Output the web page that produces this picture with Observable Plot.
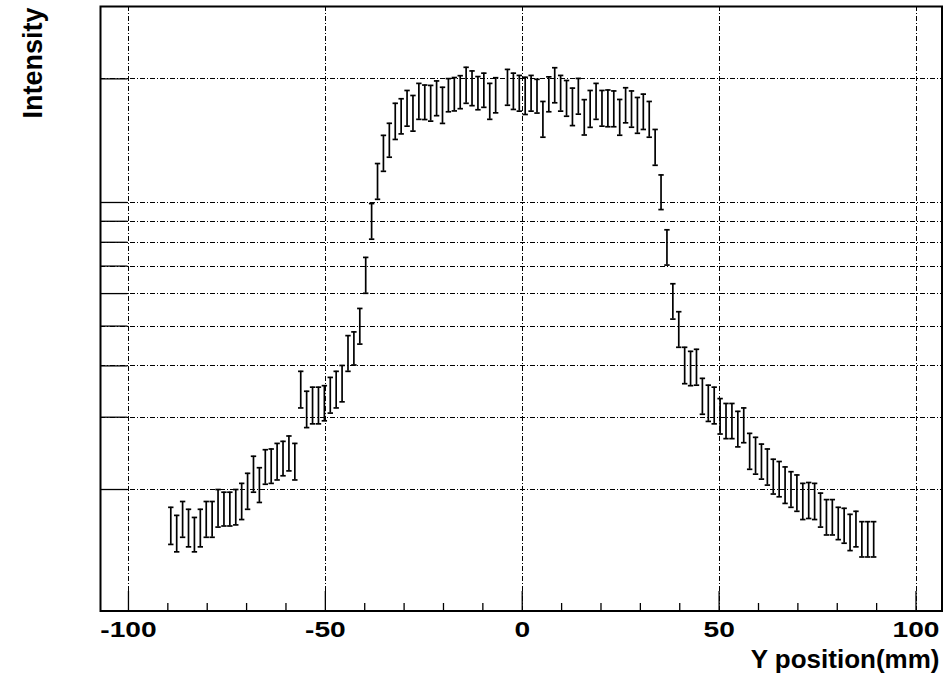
<!DOCTYPE html>
<html><head><meta charset="utf-8">
<script src="https://cdn.jsdelivr.net/npm/d3@7"></script>
<script src="https://cdn.jsdelivr.net/npm/@observablehq/plot@0.6"></script>
<style>body{margin:0;background:#fff}</style>
</head><body>
<div id="chart"></div>
<script>
// Bin centres (mm), 1.5 mm bins
const binCenters = [
  -89.25,-87.75,-86.25,-84.75,-83.25,-81.75,-80.25,-78.75,-77.25,-75.75,
  -74.25,-72.75,-71.25,-69.75,-68.25,-66.75,-65.25,-63.75,-62.25,-60.75,
  -59.25,-57.75,-56.25,-54.75,-53.25,-51.75,-50.25,-48.75,-47.25,-45.75,
  -44.25,-42.75,-41.25,-39.75,-38.25,-36.75,-35.25,-33.75,-32.25,-30.75,
  -29.25,-27.75,-26.25,-24.75,-23.25,-21.75,-20.25,-18.75,-17.25,-15.75,
  -14.25,-12.75,-11.25,-9.75,-8.25,-6.75,-5.25,-3.75,-2.25,-0.75,
  0.75,2.25,3.75,5.25,6.75,8.25,9.75,11.25,12.75,14.25,
  15.75,17.25,18.75,20.25,21.75,23.25,24.75,26.25,27.75,29.25,
  30.75,32.25,33.75,35.25,36.75,38.25,39.75,41.25,42.75,44.25,
  45.75,47.25,48.75,50.25,51.75,53.25,54.75,56.25,57.75,59.25,
  60.75,62.25,63.75,65.25,66.75,68.25,69.75,71.25,72.75,74.25,
  75.75,77.25,78.75,80.25,81.75,83.25,84.75,86.25,87.75,89.25
];
// Intensity (arbitrary units), null = empty bin
const intensity = [
  164,157,170,162,156,162,170,170,181,180,
  180,182,188,199,219,206,228,229,235,239,
  246,235,352,315,322,322,326,341,352,364,
  431,443,502,668,904,1131,1324,1424,1584,1629,
  1704,1657,1772,1762,1753,1802,1733,1833,1843,1864,
  1939,1906,1854,1885,1772,1833,null,1917,1875,1854,
  1828,1854,1823,1602,1843,1939,1854,1802,1719,1823,
  1620,1699,1772,1704,1704,1699,1620,1733,1697,1638,
  1671,1602,1369,1064,781,577,493,403,396,399,
  339,326,322,303,295,295,282,288,249,243,
  235,228,216,213,206,201,197,188,189,188,
  179,172,172,166,164,158,161,152,152,152
];
const intensityErr = [
  17,16,17,17,15,17,17,17,19,17,
  17,18,19,20,22,20,22,22,24,23,
  24,24,36,32,33,33,32,34,36,37,
  43,41,50,67,90,113,133,135,160,160,
  170,165,178,170,175,175,175,170,172,172,
  195,185,172,180,178,180,null,192,190,185,
  190,185,172,160,180,190,185,180,180,182,
  160,175,178,170,175,170,162,170,172,164,
  165,160,137,103,77,57,49,41,38,40,
  34,33,33,30,29,29,28,28,25,25,
  23,23,21,21,21,20,20,19,19,19,
  17,17,17,15,16,16,16,15,15,15
];
const xMajorTicks = [-100, -50, 0, 50, 100];
const xMinorTicks = [-90,-80,-70,-60,-40,-30,-20,-10,10,20,30,40,60,70,80,90];
const yTicks = [200, 300, 400, 500, 600, 700, 800, 900, 1000, 2000];
const xTitle = "Y position(mm)";
const yTitle = "Intensity";

const rows = binCenters
  .map((x, i) => ({x, v: intensity[i], e: intensityErr[i]}))
  .filter(d => d.v != null);

// line-segment symbols; length taken from r
function segSymbol(dx, dy) {
  return {draw(ctx, size) { const l = Math.sqrt(size / Math.PI); ctx.moveTo(0, 0); ctx.lineTo(dx * l, dy * l); }};
}
const capSymbol = {draw(ctx, size) { const h = Math.sqrt(size / Math.PI); ctx.moveTo(-h, 0); ctx.lineTo(h, 0); }};

const font = "'Liberation Sans', Arial, Helvetica, sans-serif";
const dash = "5,2,1,2";

const chart = Plot.plot({
  width: 952, height: 674,
  marginLeft: 100, marginRight: 10.5, marginTop: 6, marginBottom: 63.5,
  style: {background: "white", fontFamily: font, color: "black"},
  x: {domain: [-107.1, 106.6], axis: null},
  y: {type: "log", domain: [101.2, 3001], axis: null},
  marks: [
    Plot.ruleX(xMajorTicks, {x: d => d, stroke: "black", strokeWidth: 1, strokeDasharray: dash, shapeRendering: "crispEdges"}),
    Plot.ruleY(yTicks, {y: d => d, stroke: "black", strokeWidth: 1, strokeDasharray: dash, shapeRendering: "crispEdges"}),
    // inner tick marks
    Plot.dot(yTicks, {y: d => d, frameAnchor: "left", symbol: segSymbol(1, 0), r: 27, stroke: "black", fill: "none", strokeWidth: 1.3}),
    Plot.dot(xMinorTicks, {x: d => d, frameAnchor: "bottom", symbol: segSymbol(0, -1), r: 8, stroke: "black", fill: "none", strokeWidth: 1.3}),
    Plot.dot(xMajorTicks, {x: d => d, frameAnchor: "bottom", symbol: segSymbol(0, -1), r: 20, stroke: "black", fill: "none", strokeWidth: 1.3}),
    // error bars
    Plot.ruleX(rows, {x: "x", y1: d => d.v - d.e, y2: d => d.v + d.e, stroke: "black", strokeWidth: 1.7}),
    Plot.dot(rows, {x: "x", y: d => d.v + d.e, symbol: capSymbol, r: 2.7, stroke: "black", fill: "none", strokeWidth: 1.7}),
    Plot.dot(rows, {x: "x", y: d => d.v - d.e, symbol: capSymbol, r: 2.7, stroke: "black", fill: "none", strokeWidth: 1.7}),
    Plot.frame({stroke: "black", strokeWidth: 2}),
    Plot.axisX(xMajorTicks, {tickSize: 0, tickPadding: 10, tickFormat: d => String(d), fontSize: 22, fontWeight: "bold", fill: "black", label: null}),
    Plot.text([xTitle], {text: d => d, frameAnchor: "bottom-right", textAnchor: "end", lineAnchor: "bottom", dx: -2.5, dy: 56.5, fontSize: 26, fontWeight: "bold", fill: "black", ariaLabel: "x-title"}),
    Plot.text([yTitle], {text: d => d, frameAnchor: "top-left", rotate: -90, textAnchor: "end", lineAnchor: "bottom", dx: -58.3, dy: 1, fontSize: 27, fontWeight: "bold", fill: "black", ariaLabel: "y-title"})
  ]
});
document.getElementById("chart").append(chart);

// widen horizontal labels to match the reference's letter widths
chart.querySelectorAll('g[aria-label="x-axis tick label"] text').forEach(t => {
  const w = t.getComputedTextLength();
  t.setAttribute("textLength", (w * 1.28).toFixed(1));
  t.setAttribute("lengthAdjust", "spacingAndGlyphs");
});
chart.querySelectorAll('g[aria-label="x-title"] text').forEach(t => {
  t.setAttribute("textLength", "200");
  t.setAttribute("lengthAdjust", "spacingAndGlyphs");
});
chart.querySelectorAll('g[aria-label="y-title"] text').forEach(t => {
  t.setAttribute("textLength", "110");
  t.setAttribute("lengthAdjust", "spacingAndGlyphs");
});
</script>
</body></html>
